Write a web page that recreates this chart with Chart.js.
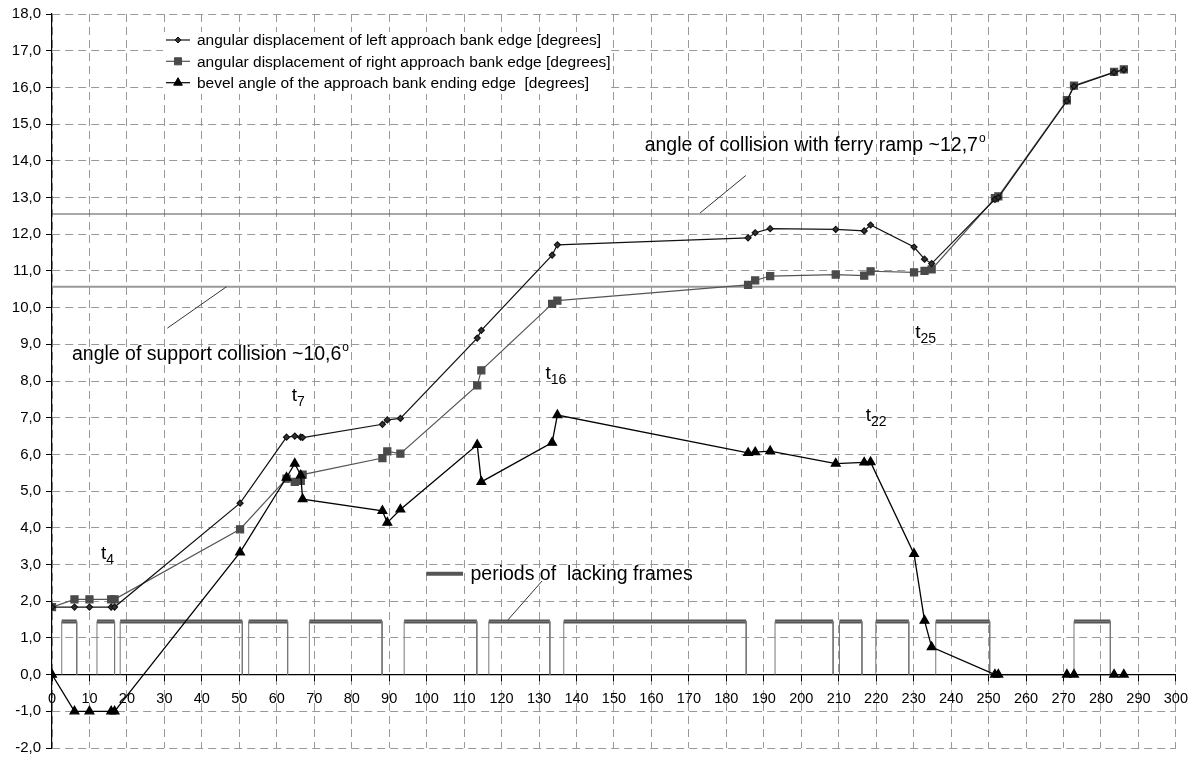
<!DOCTYPE html>
<html>
<head>
<meta charset="utf-8">
<script src="https://cdn.jsdelivr.net/npm/chart.js@4.4.1/dist/chart.umd.min.js"></script>
<style>
  html, body { margin: 0; padding: 0; background: #fff; }
  #wrap { width: 1198px; height: 762px; }
</style>
</head>
<body>
<div id="wrap"><canvas id="myChart" width="1198" height="762"></canvas></div>
<script>
// sample times (x axis)
const times = [0, 6, 10, 15.8, 16.7, 50.2, 62.6, 64.8, 66.4, 66.9, 88.2, 89.5, 93.0, 113.5, 114.6,
  133.5, 134.9, 185.8, 187.7, 191.7, 209.2, 216.8, 218.5, 230.1, 232.9, 234.8, 251.7, 252.6,
  270.9, 272.8, 283.5, 286.1];

// angular displacement of left edge
const leftEdge = [1.84, 1.84, 1.84, 1.84, 1.84, 4.67, 6.47, 6.5, 6.47, 6.46, 6.82, 6.94, 6.98, 9.17, 9.38,
  11.43, 11.71, 11.9, 12.04, 12.15, 12.13, 12.09, 12.25, 11.65, 11.32, 11.2, 12.95, 13.0,
  15.63, 16.03, 16.41, 16.48];

// angular displacement of right edge
const rightEdge = [1.84, 2.05, 2.05, 2.05, 2.05, 3.96, 5.34, 5.25, 5.28, 5.45, 5.9, 6.08, 6.02, 7.88, 8.29,
  10.1, 10.19, 10.62, 10.74, 10.86, 10.9, 10.87, 10.99, 10.96, 11.0, 11.04, 12.98, 13.03,
  15.65, 16.05, 16.42, 16.49];

// bevel angle of ending edge
const bevelAngle = [0, -1, -1, -1, -1, 3.33, 5.37, 5.75, 5.43, 4.78, 4.46, 4.14, 4.5, 6.26, 5.25,
  6.32, 7.07, 6.04, 6.06, 6.09, 5.75, 5.78, 5.79, 3.29, 1.47, 0.75, 0, 0,
  0, 0, 0, 0];

// periods of lacking frames
const gapStart = [2.6, 12.0, 18.2, 52.5, 68.7, 94.0, 116.6, 136.6, 193.0, 210.2, 219.9, 235.9, 272.8];
const gapEnd   = [6.6, 16.7, 50.8, 62.9, 88.1, 113.4, 132.9, 185.3, 208.5, 216.2, 228.7, 250.3, 282.5];
const gapLevel = 1.45;

// critical angles
const ferryAngle = 12.55;
const supportAngle = 10.57;

const seriesNames = [
  'angular displacement of left approach bank edge [degrees]',
  'angular displacement of right approach bank edge [degrees]',
  'bevel angle of the approach bank ending edge  [degrees]'
];

const FONT = "'Liberation Sans', Arial, sans-serif";

function pts(xs, ys) {
  return xs.map((x, i) => ({ x: x, y: ys[i] }));
}

let gapOutline = [];
let gapBars = [];
gapStart.forEach((a, i) => {
  const b = gapEnd[i];
  gapOutline.push({x: a, y: 0}, {x: a, y: gapLevel}, {x: b, y: gapLevel}, {x: b, y: 0}, {x: b, y: null});
  gapBars.push({x: a, y: gapLevel}, {x: b, y: gapLevel}, {x: b, y: null});
});

// text on the plot, in data coords
const tLabels = [
  {t: 't', sub: '4', x: 13.06, y: 3.14},
  {t: 't', sub: '7', x: 64.0, y: 7.46},
  {t: 't', sub: '16', x: 131.7, y: 8.05},
  {t: 't', sub: '22', x: 217.2, y: 6.92},
  {t: 't', sub: '25', x: 230.4, y: 9.17}
];
const notes = [
  {text: 'angle of collision with ferry ramp ~12,7', sup: 'o', x: 158.2, y: 14.26},
  {text: 'angle of support collision ~10,6', sup: 'o', x: 5.33, y: 8.57}
];
const leaders = [
  [185.2, 13.6, 173.0, 12.58],
  [46.6, 10.57, 30.8, 9.44],
  [130.8, 2.55, 121.7, 1.49]
];

const annotate = {
  id: 'annotate',
  afterDraw(chart) {
    const ctx = chart.ctx;
    const xs = chart.scales.x, ys = chart.scales.y;
    ctx.save();

    // leader lines
    ctx.strokeStyle = '#333';
    ctx.lineWidth = 1;
    leaders.forEach(l => {
      ctx.beginPath();
      ctx.moveTo(xs.getPixelForValue(l[0]), ys.getPixelForValue(l[1]));
      ctx.lineTo(xs.getPixelForValue(l[2]), ys.getPixelForValue(l[3]));
      ctx.stroke();
    });

    ctx.fillStyle = '#000';
    ctx.textBaseline = 'alphabetic';
    ctx.textAlign = 'left';
    notes.forEach(n => {
      const px = xs.getPixelForValue(n.x), py = ys.getPixelForValue(n.y);
      ctx.font = '19.5px ' + FONT;
      ctx.fillText(n.text, px, py);
      const w = ctx.measureText(n.text).width;
      ctx.font = '12px ' + FONT;
      ctx.fillText(n.sup, px + w + 1, py - 9);
    });

    tLabels.forEach(n => {
      const px = xs.getPixelForValue(n.x), py = ys.getPixelForValue(n.y);
      ctx.font = '19px ' + FONT;
      ctx.fillText(n.t, px, py);
      const w = ctx.measureText(n.t).width;
      ctx.font = '14px ' + FONT;
      ctx.fillText(n.sub, px + w, py + 5);
    });

    // legend for the lacking frames
    ctx.strokeStyle = '#555';
    ctx.lineWidth = 4;
    ctx.beginPath();
    ctx.moveTo(xs.getPixelForValue(99.9), ys.getPixelForValue(2.75));
    ctx.lineTo(xs.getPixelForValue(109.7), ys.getPixelForValue(2.75));
    ctx.stroke();
    ctx.font = '19.5px ' + FONT;
    ctx.fillText('periods of  lacking frames', xs.getPixelForValue(111.7), ys.getPixelForValue(2.57));

    // series legend in a white box
    ctx.fillStyle = '#fff';
    ctx.fillRect(163, 32, 444, 62);
    const rowY = [40, 61.3, 82.7];
    chart.data.datasets.slice(0, 3).forEach((ds, i) => {
      const yy = rowY[i];
      ctx.strokeStyle = ds.borderColor;
      ctx.lineWidth = 1.2;
      ctx.beginPath();
      ctx.moveTo(166, yy);
      ctx.lineTo(190, yy);
      ctx.stroke();
      ctx.fillStyle = ds.pointBackgroundColor;
      ctx.strokeStyle = ds.pointBorderColor;
      ctx.lineWidth = 1;
      Chart.helpers.drawPoint(ctx, {
        pointStyle: ds.pointStyle,
        radius: ds.pointRadius,
        rotation: 0,
        borderWidth: 1
      }, 178, yy);
      ctx.fillStyle = '#000';
      ctx.font = '15.5px ' + FONT;
      ctx.textBaseline = 'middle';
      ctx.fillText(ds.label, 197, yy + 1);
    });
    ctx.restore();
  }
};

const ctx = document.getElementById('myChart');
const myChart = new Chart(ctx, {
  type: 'scatter',
  data: {
    datasets: [{
      label: seriesNames[0],
      data: pts(times, leftEdge),
      showLine: true,
      borderColor: '#111',
      borderWidth: 1.2,
      pointStyle: 'rectRot',
      pointRadius: 3,
      pointBackgroundColor: '#333',
      pointBorderColor: '#111',
      order: 2
    }, {
      label: seriesNames[1],
      data: pts(times, rightEdge),
      showLine: true,
      borderColor: '#555',
      borderWidth: 1.2,
      pointStyle: 'rect',
      pointRadius: 5,
      pointBackgroundColor: '#4a4a4a',
      pointBorderColor: '#4a4a4a',
      order: 3
    }, {
      label: seriesNames[2],
      data: pts(times, bevelAngle),
      showLine: true,
      borderColor: '#000',
      borderWidth: 1.3,
      pointStyle: 'triangle',
      pointRadius: 5,
      pointBackgroundColor: '#000',
      pointBorderColor: '#000',
      order: 1
    }, {
      label: 'ferry',
      data: [{x: 0, y: ferryAngle}, {x: 300, y: ferryAngle}],
      showLine: true,
      borderColor: '#555',
      borderWidth: 1.2,
      pointRadius: 0,
      order: 4
    }, {
      label: 'support',
      data: [{x: 0, y: supportAngle}, {x: 300, y: supportAngle}],
      showLine: true,
      borderColor: '#999',
      borderWidth: 2,
      pointRadius: 0,
      order: 4
    }, {
      label: 'gap outline',
      data: gapOutline,
      showLine: true,
      spanGaps: false,
      borderColor: '#777',
      borderWidth: 1,
      pointRadius: 0,
      order: 5
    }, {
      label: 'gap bars',
      data: gapBars,
      showLine: true,
      spanGaps: false,
      borderColor: '#555',
      borderWidth: 4,
      pointRadius: 0,
      order: 5
    }]
  },
  options: {
    responsive: false,
    animation: false,
    layout: {
      padding: { left: 0, top: 12, right: 21, bottom: 10 }
    },
    plugins: {
      legend: { display: false },
      tooltip: { enabled: false }
    },
    elements: {
      line: { tension: 0 }
    },
    scales: {
      x: {
        type: 'linear',
        min: 0,
        max: 300,
        position: { y: 0 },
        afterFit: (s) => { s.height = 0; },
        grid: {
          color: '#999',
          tickColor: '#000',
          tickBorderDash: [],
          tickLength: 6
        },
        border: { display: true, color: '#000', width: 1.2, dash: [8, 5] },
        ticks: {
          stepSize: 10,
          autoSkip: false,
          maxRotation: 0,
          padding: 10,
          color: '#000',
          font: { family: FONT, size: 14.5 }
        }
      },
      y: {
        type: 'linear',
        min: -2,
        max: 18,
        afterFit: (s) => { s.width = 52; },
        grid: {
          color: '#999',
          tickColor: '#000',
          tickBorderDash: [],
          tickLength: 6
        },
        border: { display: true, color: '#000', width: 1.2, dash: [8, 5] },
        ticks: {
          stepSize: 1,
          padding: 5,
          color: '#000',
          font: { family: FONT, size: 15 },
          callback: (v) => v.toFixed(1).replace('.', ',')
        }
      }
    }
  },
  plugins: [annotate]
});
</script>
</body>
</html>
